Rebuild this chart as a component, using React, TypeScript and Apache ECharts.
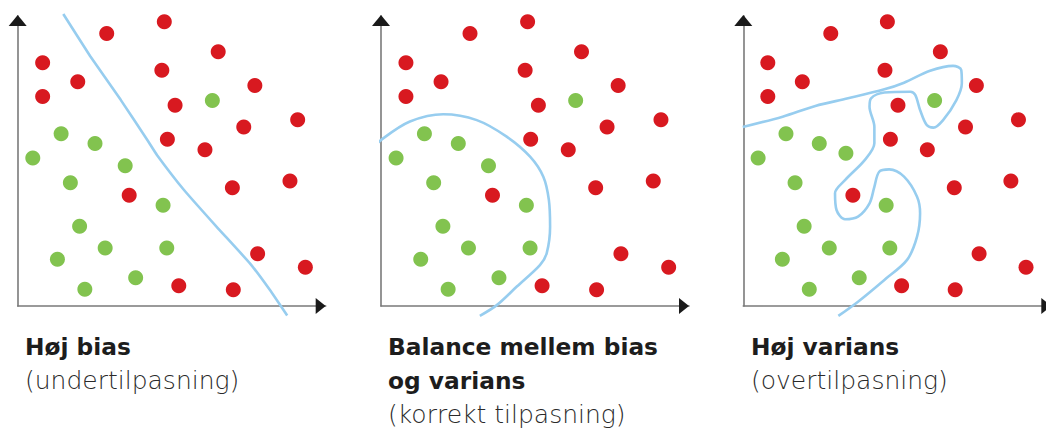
import React, { useEffect, useRef } from "react";
import * as echarts from "echarts";

// Data in axis units (x: 0..10, y: 0..10)
const redPoints: [number, number][] = [
  [2.89, 9.4], [4.76, 9.8], [6.51, 8.77], [0.81, 8.39], [1.95, 7.73],
  [0.81, 7.22], [4.68, 8.13], [7.7, 7.6], [5.11, 6.92], [9.09, 6.42],
  [7.34, 6.17], [4.86, 5.75], [6.08, 5.39], [6.97, 4.08], [8.84, 4.31],
  [3.62, 3.82], [7.79, 1.8], [9.34, 1.34], [5.23, 0.7], [7.0, 0.56],
];
const greenPoints: [number, number][] = [
  [6.32, 7.09], [1.41, 5.94], [2.51, 5.6], [0.49, 5.1], [3.49, 4.84],
  [1.71, 4.25], [4.72, 3.47], [2.01, 2.75], [2.84, 2.0], [4.84, 2.0],
  [1.29, 1.61], [3.83, 0.97], [2.18, 0.58],
];
const greenPointsOverfit: [number, number][] = [
  [6.32, 7.09], [1.41, 5.94], [2.51, 5.6], [0.49, 5.1], [3.39, 5.27],
  [1.71, 4.25], [4.72, 3.47], [2.01, 2.75], [2.84, 2.0], [4.84, 2.0],
  [1.29, 1.61], [3.83, 0.97], [2.18, 0.58],
];
const boundaryHighBias: [number, number][] = [
  [1.48, 10.07], [2.35, 8.62], [3.35, 7.1], [4.23, 5.69], [4.52, 5.21],
  [5.4, 4.0], [6.46, 2.73], [7.54, 1.47], [8.19, 0.55], [8.75, -0.33],
];
const boundaryBalanced: [number, number][] = [
  [-0.49, 5.24], [0.07, 5.78], [0.94, 6.36], [2.02, 6.61], [3.11, 6.41],
  [4.08, 5.84], [4.84, 5.15], [5.27, 4.46], [5.45, 3.66], [5.49, 2.73],
  [5.38, 1.82], [5.16, 1.41], [4.41, 0.67], [3.76, 0.03], [3.21, -0.34],
];
const boundaryHighVariance: [number, number][] = [
  [-0.02, 6.17], [1.3, 6.53], [2.38, 6.9], [3.46, 7.16], [4.66, 7.47],
  [5.31, 7.7], [6.17, 8.11], [6.93, 8.28], [7.2, 8.14], [7.22, 7.68],
  [7.04, 7.1], [6.6, 6.41], [6.28, 6.15], [6.06, 6.24], [5.84, 6.76],
  [5.68, 7.28], [5.52, 7.39], [4.66, 7.36], [4.22, 7.16], [4.17, 6.87],
  [4.33, 6.18], [4.33, 5.61], [4.01, 5.03], [3.36, 4.34], [3.03, 3.89],
  [3.08, 3.31], [3.36, 2.99], [3.79, 3.08], [4.17, 3.54], [4.33, 4.11],
  [4.49, 4.63], [4.82, 4.71], [5.31, 4.46], [5.74, 3.77], [5.84, 3.2],
  [5.74, 2.39], [5.41, 1.59], [4.66, 0.9], [3.79, 0.15], [3.14, -0.34],
];
const panelTitles: string[][] = [
  ["Høj bias"],
  ["Balance mellem bias", "og varians"],
  ["Høj varians"],
];
const panelSubtitles: string[] = ["(undertilpasning)", "(korrekt tilpasning)", "(overtilpasning)"];

const RED = "#d81920";
const GREEN = "#82c34f";
const BLUE = "#97cdef";
const PANEL_LEFT = [17.7, 381, 743.3];
const GRID_TOP = 16;
const GRID_W = 308;
const GRID_H = 290;
const SMOOTHNESS = [0.12, 0.3, 0.32];
const TEXT_LEFT = [25, 388, 751];
const FIRST_BASELINE = 355;
const LINE_PITCH = 34;

export default function App() {
  const ref = useRef<HTMLDivElement>(null);
  useEffect(() => {
    document.body.style.margin = "0";
    const chart = echarts.init(ref.current!, null, { renderer: "svg" });
    const boundaries = [boundaryHighBias, boundaryBalanced, boundaryHighVariance];
    const greens = [greenPoints, greenPoints, greenPointsOverfit];
    const grids: any[] = [];
    const xAxes: any[] = [];
    const yAxes: any[] = [];
    const series: any[] = [];
    const graphics: any[] = [];
    for (let i = 0; i < 3; i++) {
      grids.push({ left: PANEL_LEFT[i], top: GRID_TOP, width: GRID_W, height: GRID_H });
      const axisCommon = {
        type: "value",
        min: 0,
        max: 10,
        gridIndex: i,
        axisLine: { show: true, lineStyle: { color: "#7a7a7a", width: 1.6 } },
        axisTick: { show: false },
        axisLabel: { show: false },
        splitLine: { show: false },
      };
      xAxes.push({ ...axisCommon });
      yAxes.push({ ...axisCommon });
      series.push({
        type: "line",
        xAxisIndex: i,
        yAxisIndex: i,
        data: boundaries[i],
        smooth: SMOOTHNESS[i],
        showSymbol: false,
        clip: false,
        lineStyle: { color: BLUE, width: 2.6 },
        z: 1,
      });
      series.push({
        type: "scatter",
        xAxisIndex: i,
        yAxisIndex: i,
        data: redPoints,
        symbolSize: 15,
        clip: false,
        itemStyle: { color: RED, opacity: 1 },
        z: 2,
      });
      series.push({
        type: "scatter",
        xAxisIndex: i,
        yAxisIndex: i,
        data: greens[i],
        symbolSize: 15,
        clip: false,
        itemStyle: { color: GREEN, opacity: 1 },
        z: 2,
      });
      // axis arrow heads
      const ox = PANEL_LEFT[i];
      const oy = GRID_TOP + GRID_H;
      graphics.push({
        type: "polygon",
        shape: { points: [[ox, GRID_TOP - 1], [ox - 9, GRID_TOP + 10], [ox + 9, GRID_TOP + 10]] },
        style: { fill: "#1a1a1a" },
        z: 10,
      });
      graphics.push({
        type: "polygon",
        shape: { points: [[ox + GRID_W, oy], [ox + GRID_W - 10, oy - 8], [ox + GRID_W - 10, oy + 8]] },
        style: { fill: "#1a1a1a" },
        z: 10,
      });
      const lines = panelTitles[i];
      lines.forEach((t, k) => {
        graphics.push({
          type: "text",
          x: TEXT_LEFT[i],
          y: FIRST_BASELINE + k * LINE_PITCH - 8.1,
          style: {
            text: t,
            fontFamily: "DejaVu Sans",
            fontWeight: 700,
            fontSize: 23.3,
            fill: "#1d1d1d",
            verticalAlign: "middle",
          },
        });
      });
      graphics.push({
        type: "text",
        x: TEXT_LEFT[i],
        y: FIRST_BASELINE + lines.length * LINE_PITCH - 8.6,
        style: {
          text: panelSubtitles[i],
          fontFamily: "DejaVu Sans",
          fontWeight: 200,
          fontSize: 25,
          fill: "#2a2a2a",
          verticalAlign: "middle",
        },
      });
    }
    chart.setOption({
      animation: false,
      grid: grids,
      xAxis: xAxes,
      yAxis: yAxes,
      series,
      graphic: graphics,
    });
    return () => chart.dispose();
  }, []);
  return <div ref={ref} style={{ width: 1046, height: 434 }} />;
}
